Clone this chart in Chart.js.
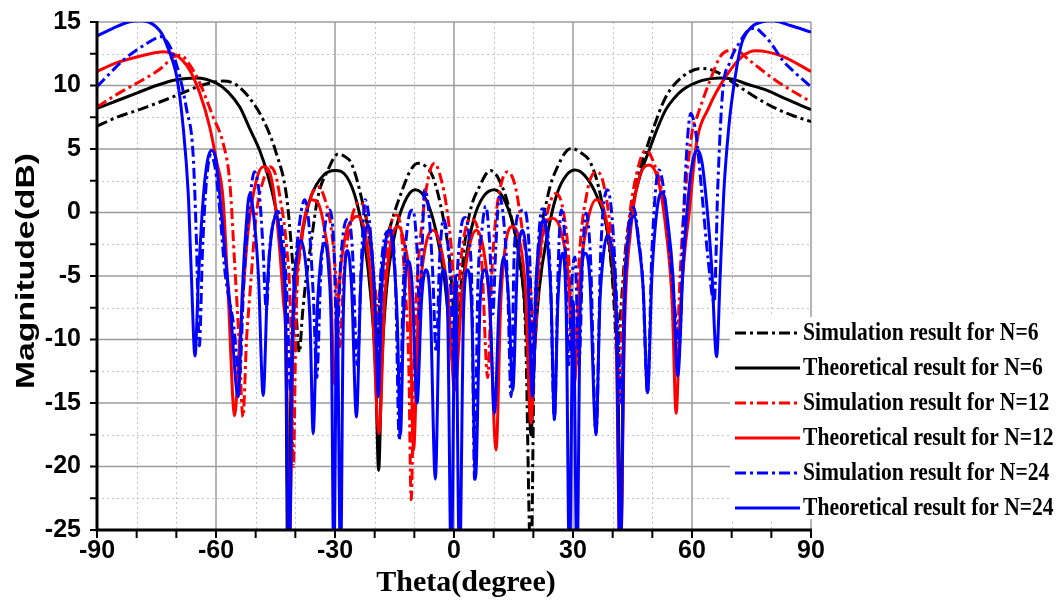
<!DOCTYPE html>
<html>
<head>
<meta charset="utf-8">
<script src="https://cdn.jsdelivr.net/npm/chart.js@4.4.1/dist/chart.umd.min.js"></script>
<style>
  html, body { margin: 0; padding: 0; background: #fff; }
</style>
</head>
<body>
<canvas id="chart" width="1060" height="600"></canvas>
<script>
// axis ticks
const xTicks = [-90, -60, -30, 0, 30, 60, 90];
const yTicks = [-25, -20, -15, -10, -5, 0, 5, 10, 15];
const xMinor = [-80, -70, -50, -40, -20, -10, 10, 20, 40, 50, 70, 80];
const yMinor = [-22.5, -17.5, -12.5, -7.5, -2.5, 2.5, 7.5, 12.5];

const seriesNames = [
  "Simulation result for N=6",
  "Theoretical result for N=6",
  "Simulation result for N=12",
  "Theoretical result for N=12",
  "Simulation result for N=24",
  "Theoretical result for N=24",
];
const seriesColors = ["#000000", "#000000", "#ff0000", "#ff0000", "#0000ff", "#0000ff"];
const dashDot = [11, 4, 3, 4];

// [theta (degree), magnitude (dB)]
const simN6 = [[-90,6.8],[-85,7.5],[-79.3,8.1],[-75,8.6],[-70.9,9.1],[-64.1,9.96],[-60,10.3],[-58.2,10.35],[-55.7,10.2],[-53.5,9.7],[-51.5,9.0],[-48.1,7.3],[-44.8,4.66],[-42.2,1.24],[-40.8,-3.5],[-39.8,-8],[-39,-11],[-38.2,-8],[-37.6,-6.1],[-36,-2.3],[-34.3,1.24],[-32,3.2],[-29.2,4.6],[-27.5,4.4],[-25.9,3.9],[-23.4,1.24],[-21.3,-2.2],[-20.2,-6],[-19.5,-12],[-18.6,-6],[-17.5,-3],[-15.5,-0.5],[-13,1.8],[-11,3.3],[-9.1,3.87],[-7,3.6],[-5.3,2.8],[-2.8,-0.3],[-1.2,-3.5],[-0.3,-7],[0.55,-11.6],[1.5,-7],[2.5,-3],[4,0],[6.4,2.03],[9.2,3.3],[11.4,2.56],[14,0.2],[16.5,-4],[18,-9],[19.4,-28],[20.3,-9],[21.1,-4],[23.6,1.24],[26.1,3.6],[29.5,5.05],[32,4.7],[34.5,3.87],[37,1.24],[39.6,-4],[40.5,-8],[41.2,-12],[42,-8],[43.2,-3],[44.6,0.2],[45.9,2.3],[48.4,4.9],[50.1,6.5],[53.4,9.1],[57.6,10.7],[62.6,11.35],[66,11.1],[71.9,9.9],[78.6,8.6],[84,7.8],[90,7.15]];

const theoN6 = [[-90,8.2],[-85,8.8],[-80,9.4],[-75,10.0],[-70,10.45],[-65,10.6],[-60,10.2],[-57,9.5],[-54,8.3],[-51.5,6.6],[-49,4.9],[-47,3.0],[-45,0.4],[-43.5,-2.5],[-42.5,-7],[-41.9,-28],[-41,-12],[-40,-6],[-38,-1.2],[-36,1.3],[-33,2.9],[-30,3.3],[-27,2.8],[-24.5,0.8],[-22.5,-2.4],[-21,-6.5],[-19.8,-12],[-19,-20.3],[-18.2,-12],[-17,-6],[-15,-1.8],[-12.5,0.8],[-9.8,1.8],[-7,1.0],[-4.5,-1.5],[-2.5,-5],[-1,-9.5],[0.2,-13],[1.5,-8],[3,-3.7],[5,-0.5],[7.5,1.3],[10.2,1.8],[13,0.8],[15.5,-1.8],[17.5,-6],[18.6,-11],[19.4,-17.5],[20.3,-11],[21.5,-6],[23.5,-1.8],[26,1.5],[28.5,3.0],[30.5,3.35],[33,2.9],[36,1.3],[38.5,-1.2],[40.3,-6],[41.3,-12],[42,-28],[42.8,-8],[43.8,-2.5],[45,0.4],[47,3.0],[49.2,4.9],[51.5,6.8],[53.4,8.1],[55.5,9.0],[57.6,9.65],[62.6,10.4],[67,10.6],[70.2,10.5],[74,10.1],[78.6,9.65],[84,8.9],[90,8.1]];

const simN12 = [[-90,8.3],[-85,9.3],[-79.3,10.3],[-75,11.1],[-73.3,11.5],[-71,12.2],[-69,12.4],[-67,11.8],[-64.1,10.2],[-60.7,7.5],[-58.2,5.45],[-56.5,2.3],[-55.3,-4],[-54.2,-10],[-53.2,-16.1],[-52.3,-10],[-51.5,-6.6],[-49.8,-0.06],[-48,2.6],[-46.4,3.6],[-45,3.0],[-43.9,1.24],[-42.2,-2.7],[-41.2,-8],[-40.5,-20],[-39.8,-8],[-38.5,-2.5],[-36.5,0.8],[-34.3,2.03],[-32.5,1.0],[-30.9,-1.4],[-29.8,-5],[-28.8,-10.6],[-27.8,-5],[-26.5,-1.5],[-23.8,0.85],[-22,-0.5],[-20.8,-3.5],[-19.5,-7],[-18.3,-10],[-17.2,-4],[-15.8,-0.8],[-14.5,-0.2],[-13.3,-1.5],[-12.3,-6],[-11.4,-12],[-10.8,-22.6],[-10.1,-12],[-9.5,-6.6],[-7.8,-0.06],[-6.2,3.1],[-4.9,3.87],[-3.2,2.56],[-2,0.7],[-0.7,-2.7],[0.5,-8],[2,-3],[4,-0.5],[5.5,-0.8],[7,-4],[8.5,-13],[9.5,-5],[10.5,-0.5],[12,2.4],[13.5,3.2],[15.5,2.0],[17.5,-2],[19.3,-6],[20.3,-10.6],[21.3,-5],[23,-0.8],[25.7,1.5],[27.5,0.2],[29,-4],[30.3,-13.4],[31.5,-4],[33.5,1.5],[35.8,3.2],[37.5,2.5],[39.5,-1.5],[40.8,-7],[41.6,-15],[42.5,-7],[44,-1],[46,3],[48.4,4.9],[50.5,3.8],[52.6,1.24],[54.5,-4],[56,-11.9],[57,-5],[57.6,-1.4],[60.1,6.5],[61,7.3],[64.3,10.2],[67.7,12.5],[71,12.8],[74.4,12.0],[81.1,10.4],[90,8.7]];

const theoN12 = [[-90,11.1],[-85,11.8],[-79.3,12.3],[-75,12.6],[-73.3,12.66],[-70.8,12.5],[-68.5,12.0],[-66.6,11.2],[-64.1,9.4],[-61.6,6.75],[-59.9,4.1],[-58.2,1.0],[-56.9,-6.6],[-55.3,-16],[-54.2,-11],[-53.2,-6.5],[-51.9,-1.4],[-49.8,2.56],[-48.1,3.6],[-46.4,3.1],[-44.8,-0.06],[-43.1,-6.6],[-42.2,-12],[-41.6,-28],[-40.5,-9],[-39.3,-4],[-37.6,-0.3],[-35.9,1.0],[-34.3,0.75],[-32.6,-1.4],[-31.2,-5],[-30.1,-13.5],[-29,-6],[-27.5,-2],[-25.5,-0.5],[-24.3,-0.3],[-22.5,-1.5],[-20.8,-6],[-18.9,-17.4],[-17.5,-7],[-16,-2.5],[-14.1,-1.1],[-12.5,-2.5],[-11.2,-6],[-10.2,-18.7],[-9,-8],[-7.5,-3.2],[-5.3,-1.4],[-3.5,-2.5],[-1.5,-6.5],[0.2,-14],[2,-6.5],[4,-2.5],[5.6,-1.4],[7.5,-3],[9,-7.5],[10.6,-18.7],[11.8,-7],[13,-2.5],[14.8,-1.1],[16.5,-2.2],[18,-6],[19.4,-16.6],[20.8,-6],[22.5,-1.5],[24.9,-0.45],[27,-1.5],[28.8,-5],[30.3,-13.5],[31.8,-5],[33.5,-1],[35.8,1.0],[37.5,0.5],[39.3,-2.5],[40.8,-8],[41.9,-28],[43,-9],[44.5,-1.5],[46.5,2.5],[49.2,3.74],[51.5,2.5],[53.5,-1.5],[55,-7],[56,-15.8],[57,-8],[58.2,-3],[59.3,0],[61,5.2],[64.3,8.3],[68.5,10.7],[72.7,12.3],[76.1,12.74],[82.8,12.3],[90,11.1]];

const simN24 = [[-90,9.9],[-86,11.2],[-83,12.1],[-80,12.8],[-77.5,13.3],[-75,13.75],[-74,13.85],[-72.5,13.5],[-71.5,13.0],[-70.3,12.0],[-69.1,10.7],[-67.4,8.1],[-65.8,4.7],[-65,-1.5],[-64.2,-10.5],[-63.4,-3],[-62.4,2.5],[-61.3,4.5],[-60.2,3.5],[-59,0],[-57.8,-4.5],[-55.5,-9],[-54.1,-13],[-53,-5.5],[-51.6,0.5],[-50.3,3.2],[-49,1.2],[-48.2,-2.5],[-47.3,-7.7],[-46.5,-3],[-45.4,-0.6],[-44.4,0.1],[-43.3,-1.5],[-42.2,-6],[-41.2,-14],[-40.1,-5],[-38.8,-0.5],[-37.6,1.0],[-36.5,-1.2],[-35.4,-7],[-34.6,-13],[-33.6,-5],[-32.4,-0.8],[-31.3,0.2],[-30.3,-2.5],[-29.5,-10],[-28.6,-4],[-27.6,-1],[-26.6,-0.5],[-25.6,-3],[-24.4,-12],[-23.3,-3.5],[-22.4,1.0],[-21.4,-0.5],[-20.3,-5],[-19.4,-11],[-18.4,-4.5],[-17.1,-1.6],[-15.8,-1.4],[-14.7,-6],[-13.8,-17.9],[-12.8,-6],[-11.6,-0.8],[-10.4,0.2],[-9.3,-3],[-8.6,-8.5],[-8,-2.5],[-7.4,1.8],[-6.5,0.5],[-5.4,-4.5],[-4.5,-11],[-3.6,-3.5],[-2.6,-0.5],[-1.7,-2],[-0.8,-6],[0,-12],[0.8,-5],[1.8,-1.2],[2.8,-0.4],[3.8,-2],[4.5,-6],[5.2,-21],[6,-6],[7,-1.5],[8,0.5],[9,-2.5],[9.8,-8],[10.5,-3],[11.4,1.24],[12.5,-0.5],[13.5,-5.5],[14.4,-14.5],[15.2,-3],[16.5,0],[17.8,0.2],[19,-3],[20.1,-12],[21,-4],[22.2,0.3],[23.2,-0.5],[24.3,-5],[25.3,-16.3],[26.3,-4],[27,0.2],[28,-2.5],[28.9,-12],[29.8,-5],[30.5,-3.5],[31.5,-12],[32.5,-3],[33.3,-0.06],[34.4,-3.5],[35.8,-17.5],[37,-3],[38.7,1.8],[40,-1],[41.3,-9],[42.2,-15],[43.2,-5],[44.3,-0.5],[45.3,0.4],[46.5,-2],[47.6,-5.5],[48.8,-14.2],[49.9,-3],[51.7,3.35],[53.2,1.0],[54.8,-4.5],[56.9,-10.3],[57.8,-1],[58.8,5.5],[59.7,7.8],[61,6.2],[62.5,1.5],[64,-3.5],[65.6,-7.1],[66.5,2],[67.7,9.4],[69.5,11.8],[72,13.4],[74.4,14.4],[76,14.5],[77.7,14.1],[80,13.3],[82.8,12],[86,11],[90,9.9]];

const theoN24 = [[-90,13.9],[-86,14.5],[-82,15.0],[-79.5,15.1],[-77,15.0],[-75,14.6],[-73.5,14.0],[-72.3,13.1],[-71,12.0],[-69.9,10.7],[-68.3,6.8],[-67,1.5],[-66.2,-5],[-65.3,-11.3],[-64.4,-5],[-63.2,1.2],[-62.2,4.0],[-61.1,4.9],[-60,4.1],[-59,1.2],[-57.8,-3],[-56.4,-7.5],[-54.4,-14.5],[-53.4,-6.5],[-52.5,-1.5],[-51.5,1.5],[-50.4,-0.5],[-49.3,-5],[-48.1,-14.4],[-47,-5.5],[-45.8,-1.2],[-44.8,-0.3],[-43.7,-2.5],[-42.5,-8],[-41.6,-28],[-40.6,-8],[-39.5,-3.2],[-38.5,-2.2],[-37.4,-4],[-36.3,-8.5],[-35.5,-17.4],[-34.6,-8.5],[-33.5,-3.5],[-32.6,-2.4],[-31.6,-4.5],[-30.9,-10],[-30.3,-28],[-29.5,-7],[-28.6,-28],[-27.9,-8],[-26.8,-3],[-25.8,-6],[-24.6,-16.1],[-23.5,-5.5],[-22.5,-1.8],[-21.6,-1.0],[-20.6,-3.5],[-19.8,-8],[-19.1,-14.5],[-18.2,-6],[-17.1,-2],[-16.2,-1.4],[-15.2,-3.5],[-14.3,-8.5],[-13.5,-17.5],[-12.7,-8],[-11.7,-3.8],[-10.6,-5.5],[-9.3,-15],[-8.2,-7],[-7.1,-4.5],[-6,-7],[-4.7,-21],[-3.7,-8],[-2.7,-4.5],[-1.6,-8],[-0.7,-28],[0.35,-5],[1.4,-28],[2.4,-8],[3.4,-4.5],[4.5,-8],[5.4,-21],[6.6,-7],[7.8,-4.5],[9,-7],[10.2,-15.8],[11.4,-7],[12.5,-3.5],[13.8,-7],[14.8,-14],[16,-4],[17.3,-1.4],[18.6,-5],[19.8,-14.5],[20.7,-5.5],[21.7,-1.8],[22.6,-0.5],[23.6,-2.5],[24.5,-7],[25.3,-16.3],[26.2,-7],[27.3,-3.2],[28.3,-8],[29.1,-28],[30.05,-7],[31,-28],[31.8,-8],[33,-3.2],[34.2,-5],[35.8,-17.4],[36.8,-7],[37.8,-3],[38.7,-1.8],[39.7,-2.8],[40.9,-8],[41.9,-28],[43,-7],[44.2,-1.5],[45.4,-0.3],[46.6,-2.5],[47.7,-6],[48.8,-14.2],[49.9,-5],[51.3,0.5],[52.6,1.6],[54,-1],[55.2,-5],[56.4,-12.9],[57.8,-4],[59.3,2],[60.3,4.2],[61.4,4.9],[62.5,4.0],[63.6,1],[64.9,-4],[66.2,-11.35],[67.1,-5],[68,1.5],[69.3,6.8],[70.9,10.7],[72.5,13.3],[75,14.6],[77.5,15.0],[80.3,15.1],[85,14.7],[90,14.2]];

const allSeries = [simN6, theoN6, simN12, theoN12, simN24, theoN24];

function toPoints(arr) {
  return arr.map(function (p) { return { x: p[0], y: p[1] }; });
}

// stretched text helper (the original figure has condensed lettering)
function stretchText(ctx, text, x, y, font, sx, sy, align) {
  ctx.save();
  ctx.font = font;
  ctx.textAlign = align || "left";
  ctx.textBaseline = "middle";
  ctx.translate(x, y);
  ctx.scale(sx, sy);
  ctx.fillText(text, 0, 0);
  ctx.restore();
}

// grid, axes and tick marks
const gridPlugin = {
  id: "gridPlugin",
  beforeDatasetsDraw(chart) {
    const ctx = chart.ctx;
    const a = chart.chartArea;
    const xs = chart.scales.x, ys = chart.scales.y;
    ctx.save();
    ctx.lineWidth = 1;
    ctx.strokeStyle = "#c4c4c4";
    ctx.setLineDash([2, 3]);
    xMinor.forEach(function (v) {
      const px = Math.round(xs.getPixelForValue(v)) + 0.5;
      ctx.beginPath(); ctx.moveTo(px, a.top); ctx.lineTo(px, a.bottom); ctx.stroke();
    });
    yMinor.forEach(function (v) {
      const py = Math.round(ys.getPixelForValue(v)) + 0.5;
      ctx.beginPath(); ctx.moveTo(a.left, py); ctx.lineTo(a.right, py); ctx.stroke();
    });
    ctx.setLineDash([]);
    ctx.strokeStyle = "#9c9c9c";
    ctx.lineWidth = 1.5;
    xTicks.forEach(function (v) {
      const px = xs.getPixelForValue(v);
      ctx.beginPath(); ctx.moveTo(px, a.top); ctx.lineTo(px, a.bottom); ctx.stroke();
    });
    yTicks.forEach(function (v) {
      const py = ys.getPixelForValue(v);
      ctx.beginPath(); ctx.moveTo(a.left, py); ctx.lineTo(a.right, py); ctx.stroke();
    });
    ctx.restore();
  },
  afterDatasetsDraw(chart) {
    const ctx = chart.ctx;
    const a = chart.chartArea;
    const xs = chart.scales.x, ys = chart.scales.y;
    ctx.save();
    ctx.strokeStyle = "#000";
    ctx.lineWidth = 2;
    xTicks.concat(xMinor).forEach(function (v) {
      const px = xs.getPixelForValue(v);
      ctx.beginPath(); ctx.moveTo(px, a.bottom); ctx.lineTo(px, a.bottom + 8); ctx.stroke();
    });
    yTicks.concat(yMinor).forEach(function (v) {
      const py = ys.getPixelForValue(v);
      ctx.beginPath(); ctx.moveTo(a.left - 7, py); ctx.lineTo(a.left, py); ctx.stroke();
    });
    ctx.lineWidth = 3;
    ctx.beginPath();
    ctx.moveTo(a.left, a.top - 1);
    ctx.lineTo(a.left, a.bottom);
    ctx.lineTo(a.right + 1, a.bottom);
    ctx.stroke();
    ctx.restore();
  },
  afterDraw(chart) {
    const ctx = chart.ctx;
    ctx.save();
    ctx.fillStyle = "#000";
    // axis titles
    ctx.save();
    ctx.translate(27, 271);
    ctx.rotate(-Math.PI / 2);
    stretchText(ctx, "Magnitude(dB)", 0, 0, "bold 25px 'Liberation Sans'", 1.35, 1, "center");
    ctx.restore();
    stretchText(ctx, "Theta(degree)", 466, 583, "bold 30px 'Liberation Serif'", 1.0, 1, "center");

    // legend
    ctx.fillStyle = "#fff";
    ctx.fillRect(730, 317, 330, 202);
    for (let i = 0; i < seriesNames.length; i++) {
      const y = 333 + i * 35;
      ctx.strokeStyle = seriesColors[i];
      ctx.lineWidth = 3;
      ctx.setLineDash(i % 2 === 0 ? dashDot : []);
      ctx.beginPath(); ctx.moveTo(735, y); ctx.lineTo(800, y); ctx.stroke();
      ctx.setLineDash([]);
      ctx.fillStyle = "#000";
      stretchText(ctx, seriesNames[i], 803, y, "bold 26px 'Liberation Serif'", 0.83, 1, "left");
    }
    ctx.restore();
  },
};

const tickFont = { family: "'Liberation Sans Narrow', 'Liberation Sans', Arial, sans-serif", size: 25, weight: "bold" };

new Chart(document.getElementById("chart"), {
  type: "line",
  data: {
    datasets: allSeries.map(function (s, i) {
      return {
        label: seriesNames[i],
        data: toPoints(s),
        borderColor: seriesColors[i],
        borderWidth: 3,
        borderDash: i % 2 === 0 ? dashDot : [],
        pointRadius: 0,
        fill: false,
        cubicInterpolationMode: "monotone",
        order: 6 - i,
      };
    }),
  },
  options: {
    responsive: false,
    animation: false,
    layout: { padding: { left: 0, right: 249, top: 22, bottom: 0 } },
    plugins: { legend: { display: false }, tooltip: { enabled: false } },
    scales: {
      x: {
        type: "linear",
        min: -90,
        max: 90,
        afterBuildTicks: function (s) { s.ticks = xTicks.map(function (v) { return { value: v }; }); },
        afterFit: function (s) { s.height = 70; s.paddingLeft = 0; s.paddingRight = 0; },
        grid: { display: false, drawTicks: false },
        border: { display: false },
        ticks: { font: tickFont, color: "#000", padding: 6, maxRotation: 0 },
      },
      y: {
        min: -25,
        max: 15,
        afterBuildTicks: function (s) { s.ticks = yTicks.map(function (v) { return { value: v }; }); },
        afterFit: function (s) { s.width = 97; s.paddingTop = 0; s.paddingBottom = 0; },
        grid: { display: false, drawTicks: false },
        border: { display: false },
        ticks: { font: tickFont, color: "#000", padding: 16 },
      },
    },
  },
  plugins: [gridPlugin],
});
</script>
</body>
</html>
